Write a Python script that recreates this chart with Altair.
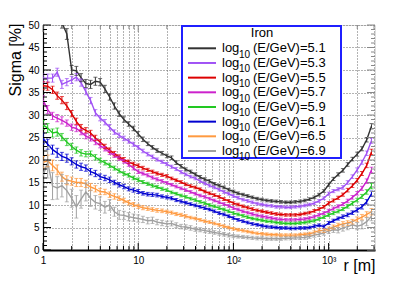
import altair as alt
import pandas as pd

# ---------------- data ----------------
R = [1.0, 1.12, 1.26, 1.41, 1.58, 1.78, 2.0, 2.24, 2.51, 2.82,
     3.16, 3.55, 3.98, 4.47, 5.01, 5.62, 6.31, 7.08, 7.94, 8.91,
     10.0, 11.2, 12.6, 14.1, 15.8, 17.8, 20.0, 22.4, 25.1, 28.2,
     31.6, 35.5, 39.8, 44.7, 50.1, 56.2, 63.1, 70.8, 79.4, 89.1,
     100, 112, 126, 141, 158, 178, 200, 224, 251, 282,
     316, 355, 398, 447, 501, 562, 631, 708, 794, 891,
     1000, 1122, 1259, 1413, 1585, 1778, 1995, 2239, 2512, 2818]

ENERGY = ["5.1", "5.3", "5.5", "5.7", "5.9", "6.1", "6.5", "6.9"]
COLORS = ["#333333", "#A052F5", "#DD0000", "#CC22CC", "#22C822", "#0000D0", "#FF9A40", "#A0A0A0"]

S51 = [62, 58, 55, 52, 50.5, 48.0, 40.0, 39.8, 38.3, 37.0,
       36.8, 37.5, 37.3, 35.8, 34.0, 32.0, 30.3, 29.0, 28.0, 27.0,
       25.8, 24.6, 23.6, 22.8, 22.1, 21.5, 20.9, 20.5, 19.4, 18.6,
       17.9, 17.4, 16.8, 16.2, 15.7, 15.3, 14.7, 14.3, 13.9, 13.4,
       13.0, 12.6, 12.3, 12.0, 11.7, 11.4, 11.2, 11.0, 10.9, 10.8,
       10.7, 10.6, 10.6, 10.7, 10.8, 11.0, 11.3, 11.7, 12.3, 13.1,
       14.5, 15.8, 16.8, 17.7, 19.0, 20.2, 21.3, 22.5, 24.5, 27.5]
S53 = [38.2, 38.2, 38.2, 39.5, 36.8, 37.3, 37.8, 38.4, 37.2, 35.2,
       33.2, 30.5, 29.3, 28.4, 27.3, 26.2, 25.5, 24.8, 24.2, 23.5,
       22.8, 22.0, 21.3, 20.7, 20.1, 19.6, 19.1, 18.5, 18.0, 17.3,
       16.8, 16.3, 15.9, 15.3, 14.8, 14.3, 13.9, 13.4, 12.9, 12.5,
       12.0, 11.6, 11.2, 10.9, 10.6, 10.3, 10.1, 9.9, 9.8, 9.6,
       9.6, 9.5, 9.5, 9.6, 9.7, 9.9, 10.1, 10.4, 10.9, 11.5,
       12.5, 13.1, 13.5, 13.9, 15.0, 16.3, 17.8, 19.5, 21.5, 24.3]
S55 = [36.5, 36.4, 35.6, 34.3, 33.3, 32.0, 30.3, 28.6, 27.2, 26.6,
       26.0, 24.9, 24.0, 23.0, 22.2, 21.4, 20.7, 20.1, 19.6, 19.1,
       18.7, 18.2, 17.8, 17.4, 17.0, 16.7, 16.4, 15.9, 15.5, 15.1,
       14.6, 14.2, 13.9, 13.5, 13.0, 12.6, 12.2, 11.8, 11.3, 10.9,
       10.4, 10.1, 9.7, 9.4, 9.1, 8.8, 8.6, 8.4, 8.2, 8.0,
       7.9, 7.8, 7.8, 7.8, 7.9, 8.1, 8.3, 8.7, 9.1, 9.6,
       10.4, 11.0, 11.6, 12.3, 13.3, 14.3, 15.5, 17.0, 18.8, 21.8]
S57 = [33.3, 31.2, 29.8, 29.3, 28.8, 28.2, 27.3, 27.0, 26.2, 25.3,
       24.8, 24.0, 23.2, 22.5, 21.7, 21.0, 20.4, 19.7, 19.0, 18.2,
       17.4, 17.0, 16.6, 16.1, 15.7, 15.3, 14.9, 14.5, 14.1, 13.7,
       13.3, 12.9, 12.5, 12.1, 11.8, 11.4, 11.0, 10.6, 10.2, 9.8,
       9.3, 9.0, 8.6, 8.3, 8.0, 7.7, 7.5, 7.3, 7.1, 6.9,
       6.8, 6.7, 6.7, 6.7, 6.8, 6.9, 7.1, 7.4, 7.8, 8.2,
       8.7, 9.2, 9.7, 10.2, 10.9, 11.7, 12.6, 13.7, 15.3, 17.8]
S59 = [27.8, 27.1, 26.0, 26.2, 25.1, 24.0, 23.0, 22.2, 21.6, 21.3,
       21.4, 20.6, 19.9, 19.4, 18.8, 18.2, 17.6, 17.0, 16.6, 16.0,
       15.6, 15.1, 14.7, 14.3, 14.0, 13.6, 13.3, 12.8, 12.5, 12.1,
       11.8, 11.4, 11.1, 10.7, 10.4, 10.0, 9.7, 9.3, 9.0, 8.6,
       8.2, 7.9, 7.6, 7.3, 7.0, 6.8, 6.6, 6.4, 6.3, 6.1,
       6.0, 5.9, 5.9, 5.9, 6.0, 6.1, 6.3, 6.5, 6.9, 7.3,
       7.8, 8.2, 8.6, 9.1, 9.7, 10.4, 11.1, 11.9, 12.9, 14.2]
S61 = [24.8, 23.5, 22.3, 21.6, 20.8, 20.4, 19.7, 19.0, 18.5, 18.2,
       17.4, 17.0, 16.3, 16.0, 15.6, 15.0, 14.5, 14.1, 13.6, 13.3,
       13.0, 12.6, 12.4, 12.3, 12.2, 11.9, 11.7, 11.5, 11.1, 10.8,
       10.5, 10.2, 9.9, 9.6, 9.3, 9.0, 8.6, 8.2, 7.9, 7.5,
       7.1, 6.7, 6.4, 6.1, 5.8, 5.6, 5.4, 5.2, 5.1, 5.0,
       4.9, 4.9, 4.8, 4.8, 4.9, 4.9, 5.0, 5.3, 5.5, 5.2,
       6.0, 6.5, 7.0, 7.4, 7.8, 8.3, 8.9, 9.6, 10.7, 12.5]
S65 = [19.5, 19.8, 18.8, 17.8, 16.3, 15.5, 15.3, 15.0, 15.0, 14.7,
       14.0, 13.6, 13.0, 12.9, 12.3, 11.9, 11.5, 11.0, 10.5, 10.1,
       9.7, 9.4, 9.2, 9.0, 8.8, 8.7, 8.5, 8.3, 8.0, 7.8,
       7.5, 7.2, 7.0, 6.7, 6.4, 6.2, 5.9, 5.6, 5.3, 5.0,
       4.7, 4.5, 4.3, 4.1, 3.9, 3.7, 3.6, 3.5, 3.4, 3.4,
       3.3, 3.3, 3.3, 3.3, 3.4, 3.5, 3.6, 3.9, 4.3, 4.3,
       4.7, 5.1, 5.5, 5.8, 6.0, 6.3, 6.8, 7.3, 7.9, 8.5]
S69 = [16.5, 19.5, 14.2, 13.8, 14.3, 13.2, 11.5, 9.6, 11.3, 12.9,
       11.5, 10.6, 10.3, 9.5, 10.0, 8.5, 7.8, 7.7, 7.4, 7.2,
       7.0, 6.8, 6.5, 6.6, 6.2, 6.0, 5.8, 5.9, 5.5, 5.2,
       5.1, 4.9, 4.6, 4.5, 4.3, 4.1, 3.9, 3.7, 3.5, 3.3,
       3.1, 3.0, 2.9, 2.8, 2.7, 2.6, 2.6, 2.5, 2.5, 2.5,
       2.5, 2.6, 2.6, 2.7, 2.7, 2.8, 3.0, 3.3, 3.5, 3.8,
       4.2, 4.5, 4.4, 4.9, 5.2, 5.6, 5.3, 5.6, 6.3, 7.5]

E51 = [1.5, 1.5, 1.5, 1.5, 1.2, 1.2, 1.0, 1.0, 0.9, 0.9,
       0.9, 0.9, 0.8, 0.8, 0.7, 0.7, 0.6, 0.6, 0.5, 0.5,
       0.5, 0.5, 0.4, 0.4, 0.4, 0.4, 0.4, 0.4, 0.4, 0.4,
       0.35, 0.35, 0.35, 0.35, 0.35, 0.35, 0.3, 0.3, 0.3, 0.3,
       0.3, 0.3, 0.3, 0.3, 0.3, 0.3, 0.3, 0.3, 0.3, 0.3,
       0.3, 0.3, 0.3, 0.3, 0.3, 0.3, 0.3, 0.3, 0.3, 0.3,
       0.35, 0.35, 0.35, 0.4, 0.4, 0.4, 0.45, 0.45, 0.5, 0.6]
E53 = [0.9, 0.9, 0.9, 0.9, 0.9, 0.8, 0.8, 0.8, 0.8, 0.7,
       0.7, 0.7, 0.6, 0.6, 0.6, 0.5, 0.5, 0.5, 0.45, 0.45,
       0.4, 0.4, 0.4, 0.4, 0.35, 0.35, 0.35, 0.35, 0.35, 0.35,
       0.3, 0.3, 0.3, 0.3, 0.3, 0.3, 0.3, 0.3, 0.3, 0.3,
       0.3, 0.3, 0.3, 0.3, 0.3, 0.3, 0.3, 0.3, 0.3, 0.3,
       0.3, 0.3, 0.3, 0.3, 0.3, 0.3, 0.3, 0.3, 0.3, 0.3,
       0.35, 0.35, 0.35, 0.4, 0.4, 0.4, 0.45, 0.45, 0.5, 0.6]
E55 = [0.9, 0.9, 0.8, 0.8, 0.8, 0.8, 0.7, 0.7, 0.7, 0.6,
       0.6, 0.6, 0.5, 0.5, 0.5, 0.5, 0.45, 0.45, 0.4, 0.4,
       0.4, 0.4, 0.35, 0.35, 0.35, 0.35, 0.35, 0.3, 0.3, 0.3,
       0.3, 0.3, 0.3, 0.3, 0.3, 0.3, 0.3, 0.3, 0.3, 0.3,
       0.3, 0.3, 0.3, 0.3, 0.3, 0.3, 0.3, 0.3, 0.3, 0.3,
       0.3, 0.3, 0.3, 0.3, 0.3, 0.3, 0.3, 0.3, 0.3, 0.3,
       0.35, 0.35, 0.35, 0.35, 0.4, 0.4, 0.4, 0.45, 0.5, 0.6]
E57 = [1.0, 0.9, 0.8, 0.8, 0.8, 0.7, 0.7, 0.7, 0.6, 0.6,
       0.6, 0.6, 0.5, 0.5, 0.5, 0.45, 0.45, 0.4, 0.4, 0.4,
       0.4, 0.35, 0.35, 0.35, 0.35, 0.35, 0.3, 0.3, 0.3, 0.3,
       0.3, 0.3, 0.3, 0.3, 0.3, 0.3, 0.3, 0.3, 0.3, 0.3,
       0.3, 0.3, 0.3, 0.3, 0.3, 0.3, 0.3, 0.3, 0.3, 0.3,
       0.3, 0.3, 0.3, 0.3, 0.3, 0.3, 0.3, 0.3, 0.3, 0.3,
       0.35, 0.35, 0.35, 0.35, 0.4, 0.4, 0.4, 0.45, 0.5, 0.6]
E59 = [1.0, 1.0, 0.9, 0.9, 0.8, 0.8, 0.7, 0.7, 0.7, 0.6,
       0.6, 0.6, 0.5, 0.5, 0.5, 0.45, 0.45, 0.4, 0.4, 0.4,
       0.4, 0.35, 0.35, 0.35, 0.35, 0.35, 0.3, 0.3, 0.3, 0.3,
       0.3, 0.3, 0.3, 0.3, 0.3, 0.3, 0.3, 0.3, 0.3, 0.3,
       0.3, 0.3, 0.3, 0.3, 0.3, 0.3, 0.3, 0.3, 0.3, 0.3,
       0.3, 0.3, 0.3, 0.3, 0.3, 0.3, 0.3, 0.3, 0.3, 0.3,
       0.35, 0.35, 0.35, 0.35, 0.4, 0.4, 0.4, 0.45, 0.5, 0.6]
E61 = [1.2, 1.1, 1.0, 1.0, 0.9, 0.9, 0.8, 0.8, 0.8, 0.7,
       0.7, 0.7, 0.6, 0.6, 0.6, 0.5, 0.5, 0.5, 0.45, 0.45,
       0.45, 0.4, 0.4, 0.4, 0.4, 0.35, 0.35, 0.35, 0.35, 0.35,
       0.3, 0.3, 0.3, 0.3, 0.3, 0.3, 0.3, 0.3, 0.3, 0.3,
       0.3, 0.3, 0.3, 0.3, 0.3, 0.3, 0.3, 0.3, 0.3, 0.3,
       0.3, 0.3, 0.3, 0.3, 0.3, 0.3, 0.3, 0.3, 0.3, 0.35,
       0.35, 0.35, 0.35, 0.4, 0.4, 0.4, 0.45, 0.5, 0.5, 0.6]
E65 = [1.3, 1.3, 1.2, 1.1, 1.0, 1.0, 0.9, 0.9, 0.9, 0.8,
       0.8, 0.7, 0.7, 0.6, 0.6, 0.6, 0.5, 0.5, 0.5, 0.45,
       0.45, 0.45, 0.4, 0.4, 0.4, 0.4, 0.35, 0.35, 0.35, 0.35,
       0.35, 0.3, 0.3, 0.3, 0.3, 0.3, 0.3, 0.3, 0.3, 0.3,
       0.3, 0.3, 0.3, 0.3, 0.3, 0.3, 0.3, 0.3, 0.3, 0.3,
       0.3, 0.3, 0.3, 0.3, 0.3, 0.3, 0.35, 0.35, 0.4, 0.4,
       0.4, 0.45, 0.45, 0.5, 0.5, 0.5, 0.55, 0.6, 0.6, 0.7]
E69 = [3.5, 3.5, 3.0, 2.5, 2.5, 2.5, 2.0, 2.5, 2.0, 2.0,
       1.8, 1.5, 1.5, 1.3, 1.2, 1.0, 1.0, 0.9, 0.9, 0.8,
       0.8, 0.7, 0.7, 0.7, 0.6, 0.6, 0.6, 0.55, 0.55, 0.5,
       0.5, 0.5, 0.45, 0.45, 0.45, 0.4, 0.4, 0.4, 0.4, 0.4,
       0.35, 0.35, 0.35, 0.35, 0.35, 0.35, 0.35, 0.35, 0.35, 0.35,
       0.35, 0.35, 0.35, 0.35, 0.35, 0.4, 0.4, 0.45, 0.5, 0.5,
       0.55, 0.6, 0.6, 0.7, 0.7, 0.8, 0.8, 0.9, 0.9, 1.0]

SERIES = [S51, S53, S55, S57, S59, S61, S65, S69]
ERRORS = [E51, E53, E55, E57, E59, E61, E65, E69]

X_MAJOR = [1, 10, 100, 1000]
X_MINOR = [2, 3, 4, 5, 6, 7, 8, 9, 20, 30, 40, 50, 60, 70, 80, 90,
           200, 300, 400, 500, 600, 700, 800, 900, 2000, 3000]
Y_MAJOR = [0, 5, 10, 15, 20, 25, 30, 35, 40, 45, 50]
Y_MINOR = [1, 2, 3, 4, 6, 7, 8, 9, 11, 12, 13, 14, 16, 17, 18, 19,
           21, 22, 23, 24, 26, 27, 28, 29, 31, 32, 33, 34, 36, 37, 38, 39,
           41, 42, 43, 44, 46, 47, 48, 49]

LEGEND_TITLE = "Iron"

# ---------------- tables ----------------
rows = []
for e, vals, errs in zip(ENERGY, SERIES, ERRORS):
    for r, v, d in zip(R, vals, errs):
        rows.append({"e": e, "r": r, "v": v, "lo": v - d, "hi": v + d})
df = pd.DataFrame(rows)

FONT = "Liberation Sans"
W, H = 332, 225

xscale = alt.Scale(type="log", domain=[1, 3070], nice=False)
yscale = alt.Scale(domain=[0, 50], nice=False, zero=False)

label_expr = ("datum.value == 1 ? '1' : datum.value == 10 ? '10' : "
              "datum.value == 100 ? '10\u00b2' : datum.value == 1000 ? '10\u00b3' : ''")

XAX = alt.Axis(values=X_MAJOR + X_MINOR, labelExpr=label_expr, grid=True,
               gridDash=[1, 2], gridColor="#666", gridWidth=1,
               ticks=False, tickSize=0, domainColor="#000", domainWidth=2,
               labelFont=FONT, labelFontSize=10, labelColor="#000", labelPadding=5,
               labelOverlap=False, labelFlush=False,
               title="r [m]", titleFont=FONT, titleFontSize=16, titleFontWeight="normal",
               titleColor="#000", titleX=W, titleY=20.5, titleAlign="right",
               titleBaseline="alphabetic")
YAX = alt.Axis(values=Y_MAJOR, grid=True, gridDash=[1, 2], gridColor="#666", gridWidth=1,
               ticks=False, tickSize=0, domainColor="#000", domainWidth=1.2,
               labelFont=FONT, labelFontSize=10, labelColor="#000", labelPadding=4,
               title="Sigma [%]", titleFont=FONT, titleFontSize=16, titleFontWeight="normal",
               titleColor="#000", titleAngle=270, titleX=-23, titleY=-2,
               titleAlign="right", titleBaseline="alphabetic")

X = alt.X("r:Q", scale=xscale, axis=XAX)
Y = alt.Y("v:Q", scale=yscale, axis=YAX)
color = alt.Color("e:N", scale=alt.Scale(domain=ENERGY, range=COLORS), legend=None)

base = alt.Chart(df)
lines = base.mark_line(clip=True, strokeWidth=1.4).encode(x=X, y=Y, color=color, detail="e:N")
errs = base.mark_rule(clip=True, strokeWidth=1).encode(
    x=X, y=alt.Y("lo:Q", scale=yscale, axis=YAX), y2="hi:Q", color=color)
caps_lo = base.mark_tick(clip=True, orient="horizontal", size=4, thickness=1).encode(
    x=X, y=alt.Y("lo:Q", scale=yscale, axis=YAX), color=color)
caps_hi = base.mark_tick(clip=True, orient="horizontal", size=4, thickness=1).encode(
    x=X, y=alt.Y("hi:Q", scale=yscale, axis=YAX), color=color)

xmaj = pd.DataFrame({"r": X_MAJOR})
xmin = pd.DataFrame({"r": X_MINOR})
ymaj = pd.DataFrame({"v": Y_MAJOR})
ymin = pd.DataFrame({"v": Y_MINOR})

ticks = [
    alt.Chart(xmaj).mark_rule(color="#000").encode(x=X, y=alt.value(H), y2=alt.value(H - 7)),
    alt.Chart(xmin).mark_rule(color="#000").encode(x=X, y=alt.value(H), y2=alt.value(H - 4)),
    alt.Chart(xmaj).mark_rule(color="#888").encode(x=X, y=alt.value(0), y2=alt.value(7)),
    alt.Chart(xmin).mark_rule(color="#888").encode(x=X, y=alt.value(0), y2=alt.value(4)),
    alt.Chart(ymaj).mark_rule(color="#000").encode(y=Y, x=alt.value(0), x2=alt.value(8)),
    alt.Chart(ymin).mark_rule(color="#000").encode(y=Y, x=alt.value(0), x2=alt.value(4)),
    alt.Chart(ymaj).mark_rule(color="#888").encode(y=Y, x=alt.value(W), x2=alt.value(W - 8)),
    alt.Chart(ymin).mark_rule(color="#888").encode(y=Y, x=alt.value(W), x2=alt.value(W - 4)),
]

# ---------------- legend (drawn by hand to get the subscript) ----------------
one = pd.DataFrame({"t": [LEGEND_TITLE]})
legend_layers = [
    alt.Chart(one).mark_rect(fill="white", stroke="#1f1fff", strokeWidth=2).encode(
        x=alt.value(139), x2=alt.value(298), y=alt.value(1), y2=alt.value(133)),
    alt.Chart(one).mark_text(font=FONT, fontSize=13, align="center", baseline="alphabetic",
                             color="#000").encode(
        x=alt.value(219), y=alt.value(12), text="t:N"),
]
ROW0, STEP = 23.3, 14.67
for i, (e, c) in enumerate(zip(ENERGY, COLORS)):
    ry = ROW0 + STEP * i
    d = pd.DataFrame({"a": ["log"], "b": ["10"], "c": ["(E/GeV)=" + e]})
    ch = alt.Chart(d)
    legend_layers += [
        ch.mark_rule(color=c, strokeWidth=2).encode(
            x=alt.value(145), x2=alt.value(173), y=alt.value(ry)),
        ch.mark_text(font=FONT, fontSize=13, align="left", baseline="alphabetic",
                     color="#000").encode(x=alt.value(179), y=alt.value(ry + 4), text="a:N"),
        ch.mark_text(font=FONT, fontSize=10, align="left", baseline="alphabetic",
                     color="#000").encode(x=alt.value(196), y=alt.value(ry + 9.5), text="b:N"),
        ch.mark_text(font=FONT, fontSize=13, align="left", baseline="alphabetic",
                     color="#000").encode(x=alt.value(210), y=alt.value(ry + 4), text="c:N"),
    ]

chart = alt.layer(lines, errs, caps_lo, caps_hi, *ticks, *legend_layers).properties(
    width=W, height=H,
    autosize=alt.AutoSizeParams(type="none"),
    padding={"left": 35, "top": 17, "right": 32, "bottom": 24},
).configure_view(stroke="#888", strokeWidth=1).configure(background="white")

chart.save("out.html", embed_options={"renderer": "svg", "actions": False})
